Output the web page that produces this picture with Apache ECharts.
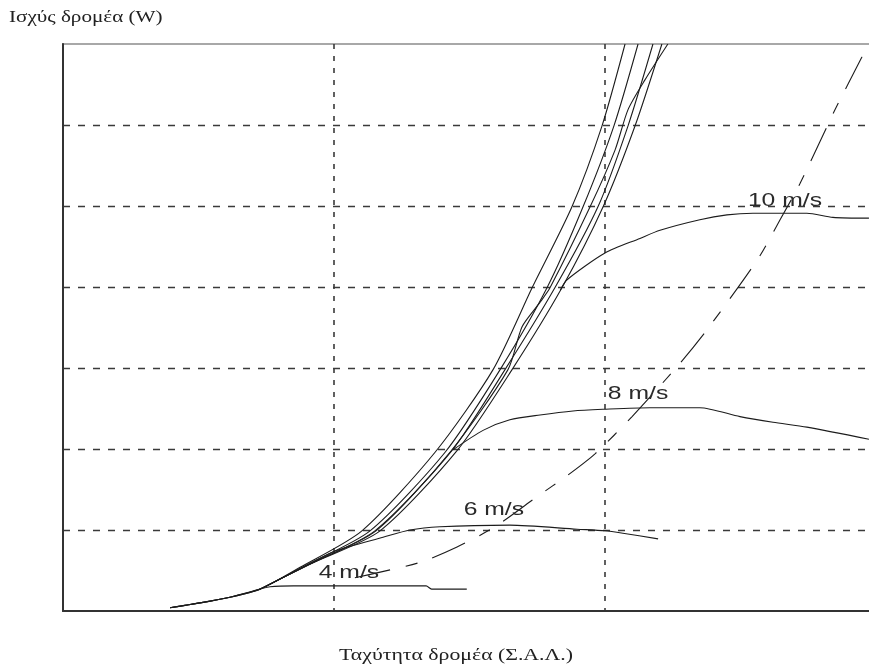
<!DOCTYPE html>
<html>
<head>
<meta charset="utf-8">
<script src="https://cdn.jsdelivr.net/npm/echarts@6/dist/echarts.min.js"></script>
<style>
  html, body { margin: 0; padding: 0; background: #fff; }
  #chart { width: 869px; height: 670px; }
</style>
</head>
<body>
<div id="chart"></div>
<script>
// Rotor speed (p.u.) vs rotor power, read as [speed, power] pairs.
// Rising trajectories of the speed controller (several runs).
const runA = [[0.395,0.04],[0.506,0.10],[0.616,0.17],[0.727,0.27],[0.875,0.54],[1.103,0.99],[1.373,1.96],[1.587,2.98],[1.731,3.99],[1.878,4.99],[1.989,5.99],[2.074,7.0]];
const runB = [[0.395,0.04],[0.506,0.10],[0.616,0.17],[0.727,0.27],[0.893,0.56],[1.133,0.99],[1.410,1.96],[1.613,2.98],[1.786,3.99],[1.919,4.99],[2.033,5.99],[2.122,7.0]];
const runC = [[0.727,0.27],[0.911,0.58],[1.151,0.99],[1.435,1.98],[1.631,2.98],[1.815,3.99],[1.974,4.99],[2.085,5.99],[2.177,7.0]];
const runD = [[0.727,0.27],[0.919,0.59],[1.170,0.99],[1.454,1.98],[1.657,2.98],[1.841,3.99],[1.993,4.99],[2.111,5.99],[2.210,7.0]];
const runE = [[0.727,0.27],[0.905,0.57],[1.155,0.99],[1.428,1.96],[1.642,2.98],[1.694,3.51],[1.760,3.81],[1.797,3.99],[1.945,4.99],[2.037,5.69],[2.085,6.19],[2.148,6.56],[2.232,7.0]];

// Optimum power locus (dashed).
const optimumCurve = [[1.077,0.41],[1.317,0.60],[1.454,0.79],[1.594,1.04],[1.753,1.42],[1.860,1.67],[1.963,1.94],[2.100,2.40],[2.277,3.06],[2.376,3.47],[2.565,4.35],[2.646,4.83],[2.720,5.28],[2.849,6.19],[2.948,6.84],[2.970,7.0]];

// Power curves at constant wind speed.
const wind4 = [[0.395,0.04],[0.506,0.10],[0.616,0.17],[0.727,0.27],[0.764,0.30],[0.85,0.31],[1.0,0.31],[1.2,0.31],[1.34,0.31],[1.36,0.27],[1.49,0.27]];
const wind6 = [[0.911,0.58],[1.004,0.74],[1.181,0.91],[1.28,1.0],[1.391,1.04],[1.649,1.06],[1.897,1.01],[2.0,0.99],[2.066,0.96],[2.196,0.89]];
const wind8 = [[1.439,1.99],[1.55,2.23],[1.649,2.36],[1.760,2.42],[1.882,2.47],[1.993,2.49],[2.166,2.51],[2.35,2.51],[2.498,2.40],[2.62,2.33],[2.745,2.27],[2.974,2.12]];
const wind10 = [[1.835,3.96],[1.860,4.09],[2.0,4.42],[2.129,4.60],[2.203,4.70],[2.35,4.83],[2.45,4.89],[2.546,4.91],[2.745,4.91],[2.841,4.86],[2.974,4.85]];

// Wind speed captions and the point each one sits at.
const windLabels = ['4 m/s', '6 m/s', '8 m/s', '10 m/s'];
const windLabelAt = [[1.055,0.47],[1.590,1.25],[2.122,2.68],[2.664,5.07]];

const yTitle = 'Ισχύς δρομέα (W)';
const xTitle = 'Ταχύτητα δρομέα (Σ.Α.Λ.)';

const ink = '#1c1c1c';
function solid(data) {
  return {
    type: 'line', data: data, symbol: 'none', smooth: 0.25,
    lineStyle: { color: ink, width: 1.1 }, silent: true
  };
}

const chart = echarts.init(document.getElementById('chart'), null, { renderer: 'canvas' });

chart.setOption({
  animation: false,
  backgroundColor: '#fff',
  grid: {
    left: 63, top: 44, right: -7, bottom: 59,
    outerBoundsMode: 'none',
    show: true, borderColor: '#a8a8a8', borderWidth: 2, backgroundColor: 'transparent'
  },
  xAxis: {
    type: 'value', min: 0, max: 3, interval: 1,
    axisLine: { show: true, lineStyle: { color: '#333', width: 2 } },
    axisTick: { show: false }, axisLabel: { show: false },
    splitLine: { show: true, showMinLine: false, showMaxLine: false,
      lineStyle: { color: '#3a3a3a', width: 1.6, type: [5, 7] } }
  },
  yAxis: {
    type: 'value', min: 0, max: 7, interval: 1,
    axisLine: { show: true, lineStyle: { color: '#333', width: 2 } },
    axisTick: { show: false }, axisLabel: { show: false },
    splitLine: { show: true, showMinLine: false, showMaxLine: false,
      lineStyle: { color: '#3a3a3a', width: 1.3, type: [7, 8] } }
  },
  series: [
    solid(runA), solid(runB), solid(runC), solid(runD), solid(runE),
    solid(wind4), solid(wind6), solid(wind8), solid(wind10),
    {
      type: 'line', data: optimumCurve, symbol: 'none', smooth: 0.25, silent: true,
      lineStyle: { color: ink, width: 1.1, type: [36, 16, 12, 16] }
    }
  ]
});

// Captions placed at data positions, slightly stretched like the original lettering.
const captions = windLabels.map(function (txt, i) {
  const p = chart.convertToPixel({ gridIndex: 0 }, windLabelAt[i]);
  return {
    type: 'text', x: p[0], y: p[1], scaleX: 1.3, z: 10,
    style: { text: txt, x: 0, y: 0, align: 'center', verticalAlign: 'middle',
      font: '19px "Liberation Sans", Arial, sans-serif', fill: '#2a2a2a' }
  };
});

chart.setOption({
  graphic: captions.concat([
    { type: 'text', x: 9, y: 18, scaleX: 1.32,
      style: { text: yTitle, x: 0, y: 0, align: 'left', verticalAlign: 'middle',
        font: '16px "Liberation Serif", "Times New Roman", serif', fill: '#222' } },
    { type: 'text', x: 456, y: 656, scaleX: 1.36,
      style: { text: xTitle, x: 0, y: 0, align: 'center', verticalAlign: 'middle',
        font: '16px "Liberation Serif", "Times New Roman", serif', fill: '#222' } }
  ])
});
</script>
</body>
</html>
